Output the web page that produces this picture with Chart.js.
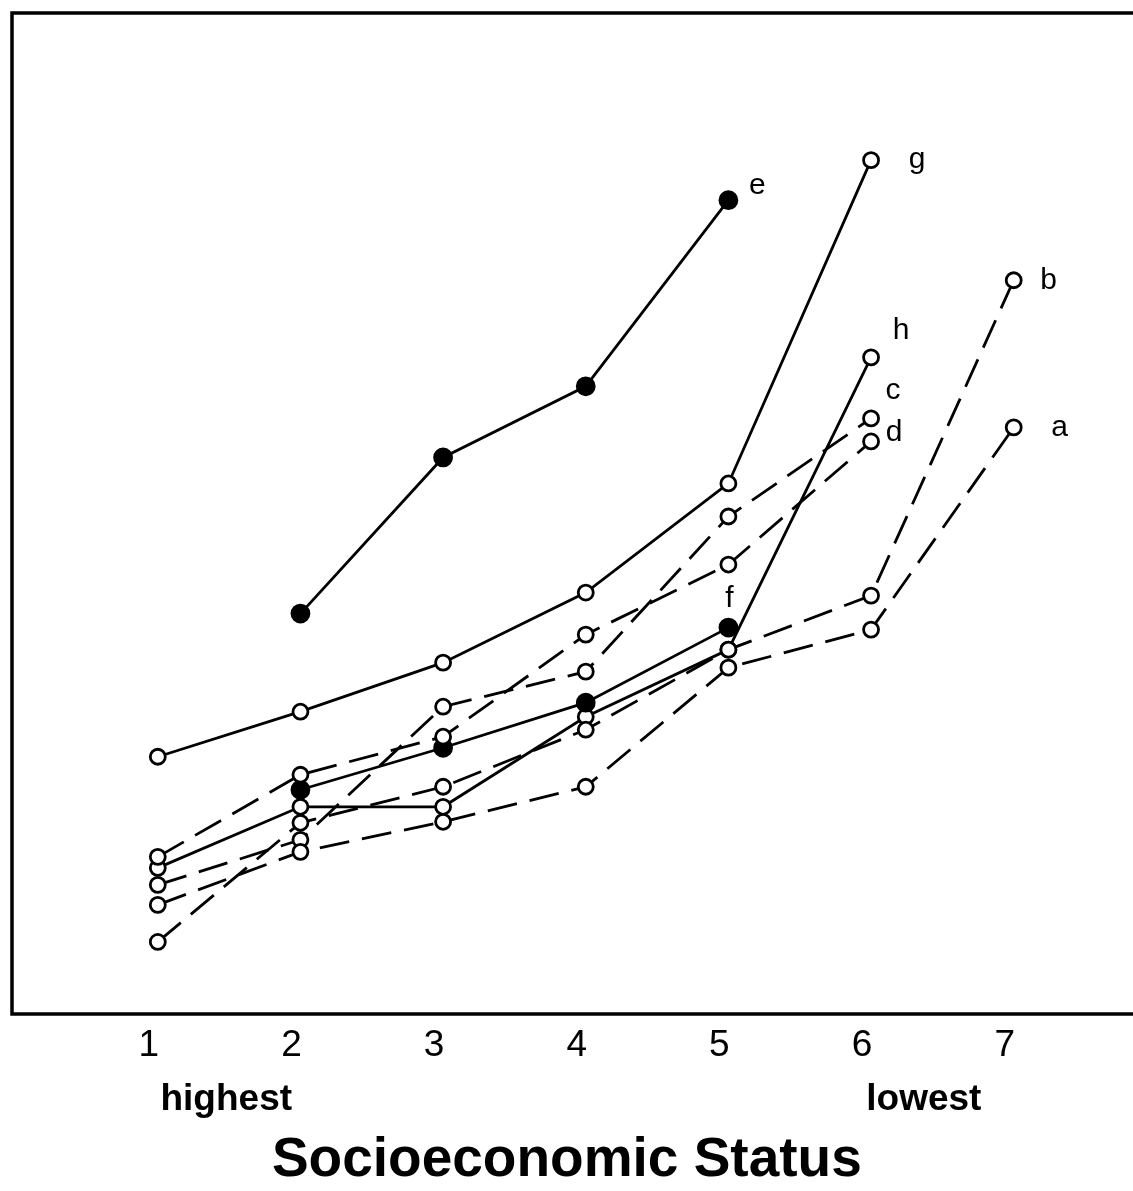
<!DOCTYPE html>
<html>
<head>
<meta charset="utf-8">
<script src="https://cdn.jsdelivr.net/npm/chart.js@4.4.1/dist/chart.umd.min.js"></script>
<style>
  html, body { margin: 0; padding: 0; background: #fff; }
  #wrap { width: 1133px; height: 1191px; }
</style>
</head>
<body>
<div id="wrap"><canvas id="myChart" width="1133" height="1191"></canvas></div>
<script>
// socioeconomic status, 1 = highest ... 7 = lowest
const xTicks = [1, 2, 3, 4, 5, 6, 7];
const sideNotes = [{ x: 1.48, text: "highest" }, { x: 6.37, text: "lowest" }];

// values (no y scale printed, arbitrary units)
const seriesA = [10.9, 16.2, 19.2, 22.7, 34.6, 38.4, 58.6];
const seriesB = [7.2, 19.1, 22.7, 28.4, 36.4, 41.8, 73.3];
const seriesC = [12.9, 17.4, 30.7, 34.2, 49.7, 59.5, null];
const seriesD = [15.7, 23.9, 27.7, 37.9, 44.9, 57.2, null];
const seriesE = [null, 40.0, 55.6, 62.7, 81.3, null, null];
const seriesF = [null, 22.4, 26.6, 31.1, 38.6, null, null];
const seriesG = [25.7, 30.2, 35.1, 42.1, 53.0, 85.3, null];
const seriesH = [14.6, 20.7, 20.7, 29.7, 36.4, 65.6, null];

const names = ["a", "b", "c", "d", "e", "f", "g", "h"];
const allSeries = [seriesA, seriesB, seriesC, seriesD, seriesE, seriesF, seriesG, seriesH];

// style per curve
const dashed = { a: true, b: true, c: true, d: true };
const filled = { e: true, f: true };
const nameOffset = {
  a: [46, 0], b: [35, 0], c: [22, -28], d: [23, -9],
  e: [29, -14], f: [1, -29], g: [46, 0], h: [30, -27]
};

function toPoints(vals) {
  const pts = [];
  vals.forEach((v, i) => { if (v !== null) pts.push({ x: xTicks[i], y: v }); });
  return pts;
}

const datasets = names.map((n, k) => ({
  label: n,
  data: toPoints(allSeries[k]),
  borderColor: "#000",
  borderWidth: 2.8,
  borderDash: dashed[n] ? [30, 13] : [],
  pointRadius: filled[n] ? 8.5 : 7.5,
  pointBorderWidth: 2.8,
  pointBorderColor: "#000",
  pointBackgroundColor: filled[n] ? "#000" : "#fff",
  fill: false,
  tension: 0
}));

const decor = {
  id: "decor",
  afterDraw(chart) {
    const ctx = chart.ctx;
    const a = chart.chartArea;
    const xs = chart.scales.x;
    ctx.save();
    // frame: left, top, bottom (runs off the right edge)
    ctx.strokeStyle = "#000";
    ctx.lineWidth = 3.5;
    ctx.beginPath();
    ctx.moveTo(chart.width, a.top);
    ctx.lineTo(a.left, a.top);
    ctx.lineTo(a.left, a.bottom);
    ctx.lineTo(chart.width, a.bottom);
    ctx.stroke();

    // curve names next to last point
    ctx.fillStyle = "#000";
    ctx.font = "30px 'Liberation Sans', Arial, sans-serif";
    ctx.textAlign = "center";
    ctx.textBaseline = "middle";
    chart.data.datasets.forEach((ds, i) => {
      const meta = chart.getDatasetMeta(i);
      const last = meta.data[meta.data.length - 1];
      const off = nameOffset[ds.label];
      ctx.fillText(ds.label, last.x + off[0], last.y + off[1]);
    });

    // highest / lowest under the ticks
    ctx.font = "bold 37px 'Liberation Sans', Arial, sans-serif";
    ctx.textBaseline = "alphabetic";
    sideNotes.forEach(s => {
      ctx.fillText(s.text, xs.getPixelForValue(s.x), 1110);
    });
    ctx.restore();
  }
};

new Chart("myChart", {
  type: "line",
  data: { datasets: datasets },
  options: {
    responsive: false,
    animation: false,
    layout: { padding: { left: 12, top: 13, right: 0, bottom: 0 } },
    plugins: {
      legend: { display: false },
      tooltip: { enabled: false }
    },
    scales: {
      x: {
        type: "linear",
        min: -0.022,
        max: 7.757,
        afterBuildTicks: s => { s.ticks = xTicks.map(v => ({ value: v })); },
        afterFit: s => { s.height = 177; },
        grid: { display: false, drawTicks: false },
        border: { display: false },
        ticks: {
          color: "#000",
          padding: 10,
          labelOffset: -9,
          maxRotation: 0,
          font: { family: "'Liberation Sans', Arial, sans-serif", size: 37 }
        },
        title: {
          display: true,
          text: "Socioeconomic Status",
          color: "#000",
          padding: { top: 0, bottom: 0 },
          font: { family: "'Liberation Sans', Arial, sans-serif", size: 55, weight: "bold", lineHeight: 1.1 }
        }
      },
      y: {
        display: false,
        min: 0,
        max: 100
      }
    }
  },
  plugins: [decor]
});
</script>
</body>
</html>
